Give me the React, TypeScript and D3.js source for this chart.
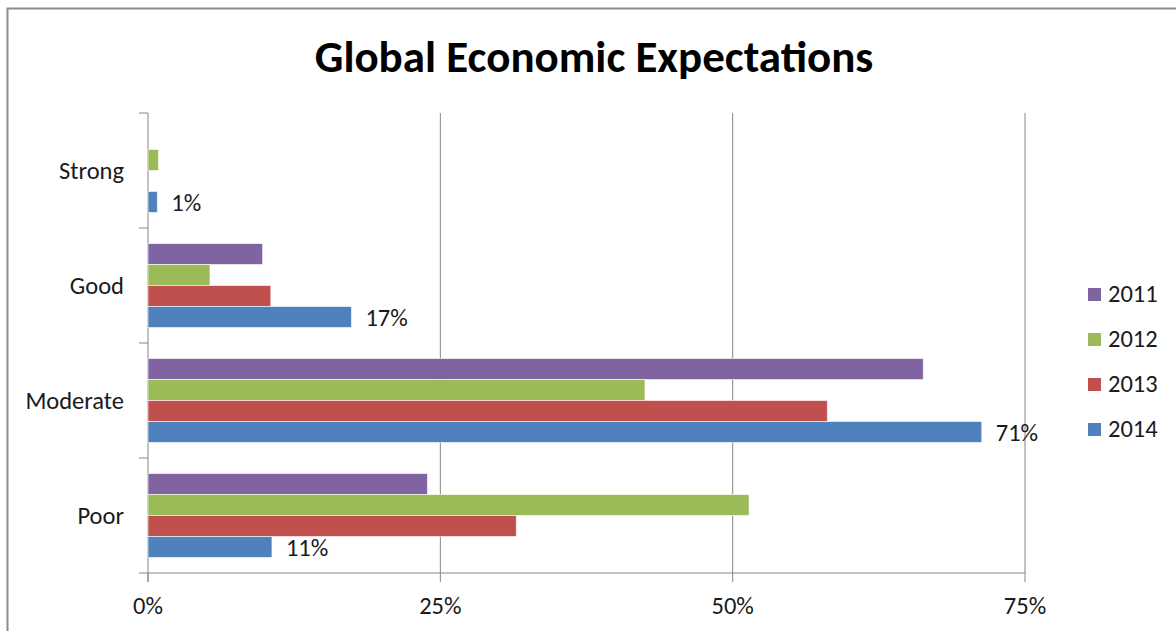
import React from "react";
import * as d3 from "d3";

const categories = ["Strong", "Good", "Moderate", "Poor"];
const seriesNames = ["2011", "2012", "2013", "2014"];
const seriesColors = ["#8064A2", "#9BBB59", "#C0504D", "#4F81BD"];
const values2011 = [0, 9.8, 66.3, 23.9];
const values2012 = [0.9, 5.3, 42.5, 51.4];
const values2013 = [0, 10.5, 58.1, 31.5];
const values2014 = [0.8, 17.4, 71.3, 10.6];
const labels2014 = ["1%", "17%", "71%", "11%"];
const xTicks = [0, 25, 50, 75];

const W = 1176;
const H = 631;

export default function App() {
  const series = [values2011, values2012, values2013, values2014];
  const left = 148, right = 1025, top = 113, bottom = 573;
  const x = d3.scaleLinear().domain([0, 75]).range([left, right]);
  const y = d3.scaleBand<string>().domain(categories).range([top, bottom]).paddingInner(0.27).paddingOuter(0.135);
  const yOuter = d3.scaleBand<string>().domain(categories).range([top, bottom]);
  const inner = d3.scaleBand<string>().domain(seriesNames).range([0, y.bandwidth()]);
  const font = "Carlito, 'Open Sans', 'Liberation Sans', sans-serif";
  const grid = "#868686";
  const fs = 24.5;

  return (
    <svg width={W} height={H} style={{ position: "absolute", left: 0, top: 0 }} fontFamily={font}>
      <rect x={0} y={0} width={W} height={H} fill="#fff" />
      <rect x={7.5} y={8.5} width={W + 20} height={H + 20} fill="none" stroke="#8c8c8c" strokeWidth={2} />
      <text x={594} y={72} textAnchor="middle" fontSize={45} fontWeight="bold" fill="#000">
        Global Economic Expectations
      </text>
      {xTicks.map((t) => (
        <g key={t}>
          {t > 0 && <line x1={x(t)} x2={x(t)} y1={top} y2={bottom} stroke={grid} strokeWidth={1} />}
          <line x1={x(t)} x2={x(t)} y1={bottom} y2={bottom + 9} stroke={grid} strokeWidth={1} />
          <text x={x(t)} y={bottom + 41} textAnchor="middle" fontSize={fs} fill="#1a1a1a">
            {t}%
          </text>
        </g>
      ))}
      <line x1={left} x2={left} y1={top} y2={bottom + 9} stroke={grid} strokeWidth={1} />
      <line x1={left - 9} x2={right} y1={bottom} y2={bottom} stroke={grid} strokeWidth={1} />
      {categories.map((c) => (
        <line key={c} x1={left - 9} x2={left} y1={yOuter(c)!} y2={yOuter(c)!} stroke={grid} strokeWidth={1} />
      ))}
      {categories.map((c) => (
        <text key={c} x={124} y={yOuter(c)! + yOuter.bandwidth() / 2 + 8} textAnchor="end" fontSize={fs} fill="#1a1a1a">
          {c}
        </text>
      ))}
      {series.map((vals, si) =>
        categories.map((c, ci) => {
          const v = vals[ci];
          if (v <= 0) return null;
          const by = y(c)! + inner(seriesNames[si])!;
          return (
            <rect
              key={si + "-" + c}
              x={x(0)}
              y={by}
              width={x(v) - x(0)}
              height={inner.bandwidth()}
              fill={seriesColors[si]}
              stroke="#fff"
              strokeOpacity={0.6}
              strokeWidth={1}
            />
          );
        })
      )}
      {categories.map((c, ci) => {
        const by = y(c)! + inner("2014")! + inner.bandwidth() / 2;
        return (
          <text key={c} x={x(values2014[ci]) + 14} y={by + 9} fontSize={fs} fill="#1a1a1a">
            {labels2014[ci]}
          </text>
        );
      })}
      {seriesNames.map((s, i) => (
        <g key={s} transform={`translate(1088, ${288 + i * 45})`}>
          <rect x={0} y={0} width={13} height={13} fill={seriesColors[i]} />
          <text x={20} y={14} fontSize={fs} fill="#1a1a1a">
            {s}
          </text>
        </g>
      ))}
    </svg>
  );
}
